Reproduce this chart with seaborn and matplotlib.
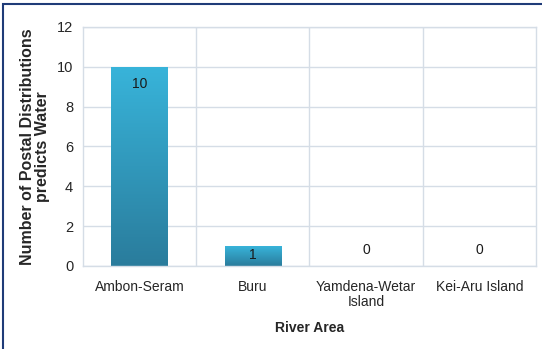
import numpy as np
import pandas as pd
import matplotlib
matplotlib.use("Agg")
import matplotlib.pyplot as plt
from matplotlib.colors import LinearSegmentedColormap
from matplotlib.patches import Rectangle
import seaborn as sns

areas = ["Ambon-Seram", "Buru", "Yamdena-Wetar\nIsland", "Kei-Aru Island"]
counts = [10, 1, 0, 0]
yticks = [0, 2, 4, 6, 8, 10, 12]

df = pd.DataFrame({"area": areas, "count": counts})

sns.set_theme(style="white")
plt.rcParams["font.family"] = ["Liberation Sans", "DejaVu Sans"]

fig = plt.figure(figsize=(5.42, 3.49), dpi=100)
ax = fig.add_axes([0.153, 0.238, 0.836, 0.685])

sns.barplot(data=df, x="area", y="count", color="#2e9cc2", width=0.5, ax=ax,
            saturation=1)

# vertical gradient fill for each bar
grad = LinearSegmentedColormap.from_list("bar", ["#2a7c9c", "#38b4da"])
for p in ax.patches:
    x0, y0 = p.get_x(), p.get_y()
    w, h = p.get_width(), p.get_height()
    if h <= 0:
        continue
    p.set_facecolor("none")
    p.set_edgecolor("none")
    img = ax.imshow(np.linspace(0, 1, 256).reshape(-1, 1), cmap=grad,
                    origin="lower", aspect="auto",
                    extent=[x0, x0 + w, y0, y0 + h], zorder=2)
    img.set_clip_path(p)

ax.set_xlim(-0.5, len(areas) - 0.5)
ax.set_ylim(0, 12)
ax.set_yticks(yticks)
ax.set_yticklabels([str(t) for t in yticks], fontsize=10.5, color="#262626")
ax.set_xticks(range(len(areas)))
ax.set_xticklabels(areas, fontsize=10, color="#262626", linespacing=1.15)
ax.tick_params(axis="x", length=0, pad=10)
ax.tick_params(axis="y", length=0, pad=7)

# grid lines between categories and at each y tick
for b in np.arange(0.5, len(areas) - 0.5, 1):
    ax.axvline(b, color="#d5dde6", lw=1, zorder=0)
ax.yaxis.grid(True, color="#d5dde6", lw=1, zorder=0)
ax.set_axisbelow(True)
for s in ax.spines.values():
    s.set_color("#d5dde6")
    s.set_linewidth(1)

# value labels
for i, v in enumerate(counts):
    if v >= 5:
        off = -17
    elif v >= 1:
        off = -9
    else:
        off = 16
    ax.annotate(str(v), (i, v), xytext=(0, off), textcoords="offset pixels",
                ha="center", va="center", fontsize=10, color="#1a1a1a", zorder=5)

ax.set_xlabel("River Area", fontsize=10, fontweight="bold", labelpad=8)
ax.set_ylabel("Number of Postal Distributions\npredicts Water", fontsize=11.5,
              fontweight="bold", labelpad=5, linespacing=0.95)

# outer frame
fig.patches.append(Rectangle((2.5 / 542, -0.1), 1.2, 1.1 - 3.5 / 349,
                             transform=fig.transFigure, fill=False,
                             edgecolor="#1f3b78", lw=1.5))

fig.savefig("out.png", dpi=100)
